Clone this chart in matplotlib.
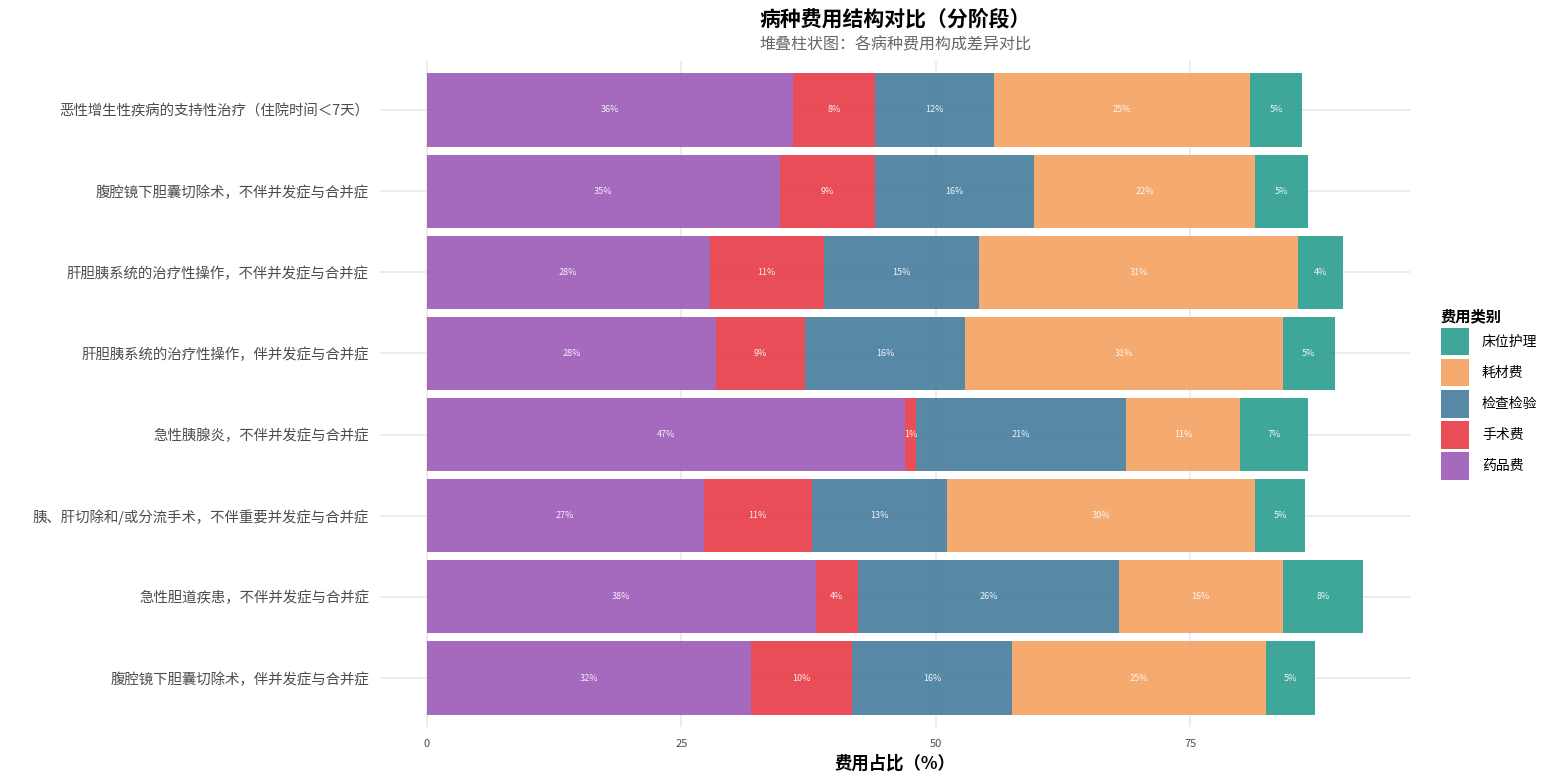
import numpy as np
import matplotlib
matplotlib.use("Agg")
import matplotlib.pyplot as plt

plt.rcParams['font.family'] = ['Noto Sans CJK SC', 'DejaVu Sans']

# ---------------------------------------------------------------
# data (top to bottom, values in % of cost)
# ---------------------------------------------------------------
diseases = [
    "恶性增生性疾病的支持性治疗（住院时间＜7天）",
    "腹腔镜下胆囊切除术，不伴并发症与合并症",
    "肝胆胰系统的治疗性操作，不伴并发症与合并症",
    "肝胆胰系统的治疗性操作，伴并发症与合并症",
    "急性胰腺炎，不伴并发症与合并症",
    "胰、肝切除和/或分流手术，不伴重要并发症与合并症",
    "急性胆道疾患，不伴并发症与合并症",
    "腹腔镜下胆囊切除术，伴并发症与合并症",
]
drug     = [36.0, 34.7, 27.8, 28.4, 47.0, 27.2, 38.2, 31.9]
surgery  = [8.0, 9.3, 11.2, 8.8, 1.1, 10.6, 4.2, 9.9]
exam     = [11.7, 15.7, 15.3, 15.7, 20.6, 13.3, 25.6, 15.7]
material = [25.2, 21.7, 31.3, 31.2, 11.2, 30.3, 16.1, 25.0]
bed      = [5.1, 5.2, 4.4, 5.1, 6.7, 4.9, 7.9, 4.8]

series_names  = ["药品费", "手术费", "检查检验", "耗材费", "床位护理"]
series_values = [drug, surgery, exam, material, bed]
series_colors = ["#9B59B6", "#E63946", "#457B9D", "#F4A261", "#2A9D8F"]
x_ticks = [0, 25, 50, 75]

# ---------------------------------------------------------------
# plot
# ---------------------------------------------------------------
fig = plt.figure(figsize=(15.6, 7.8), dpi=100)
ax = fig.add_axes([380 / 1560, 1 - 726.7 / 780, 1030 / 1560, (726.7 - 61.3) / 780])

ypos = np.arange(len(diseases))
left = np.zeros(len(diseases))
handles = []
for name, vals, col in zip(series_names, series_values, series_colors):
    vals = np.array(vals)
    bars = ax.barh(ypos, vals, left=left, height=0.9, color=col, alpha=0.9,
                   label=name, zorder=2, linewidth=0)
    handles.append(bars)
    for y, l, v in zip(ypos, left, vals):
        ax.text(l + v / 2, y, f"{round(v)}%", ha='center', va='center',
                color='white', fontsize=6.5, alpha=0.9, zorder=3)
    left = left + vals

total_max = left.max()
ax.set_xlim(-0.05 * total_max, total_max * 1.05)
ax.set_ylim(len(diseases) - 0.4, -0.6)

ax.set_yticks(ypos)
ax.set_yticklabels(diseases, fontsize=10.4, color='#4D4D4D')
ax.set_xticks(x_ticks)
ax.set_xticklabels([str(t) for t in x_ticks], fontsize=8, color='#4D4D4D')
ax.tick_params(axis='y', length=0, pad=8)
ax.tick_params(axis='x', length=0, pad=9)

ax.grid(True, color='#EBEBEB', linewidth=1.3, zorder=0)
ax.set_axisbelow(True)
for s in ax.spines.values():
    s.set_visible(False)

ax.set_xlabel("费用占比（%）", fontsize=12.5, fontweight='bold', labelpad=4)

fig.text(895 / 1560, 1 - 19 / 780, "病种费用结构对比（分阶段）", ha='center', va='center',
         fontsize=15, fontweight='bold', color='black')
fig.text(895 / 1560, 1 - 45 / 780, "堆叠柱状图：各病种费用构成差异对比", ha='center', va='center',
         fontsize=11.5, color='#666666')

leg = ax.legend(handles[::-1], series_names[::-1], title="费用类别",
                loc='center left', bbox_to_anchor=(1441 / 1560, 1 - 394 / 780),
                bbox_transform=fig.transFigure, frameon=False, fontsize=10,
                handlelength=2.0, handleheight=2.72, labelspacing=0.22,
                handletextpad=0.95, borderpad=0, borderaxespad=0,
                alignment='left', title_fontproperties={'size': 11, 'weight': 'bold'})

fig.savefig("out.png", dpi=100)
